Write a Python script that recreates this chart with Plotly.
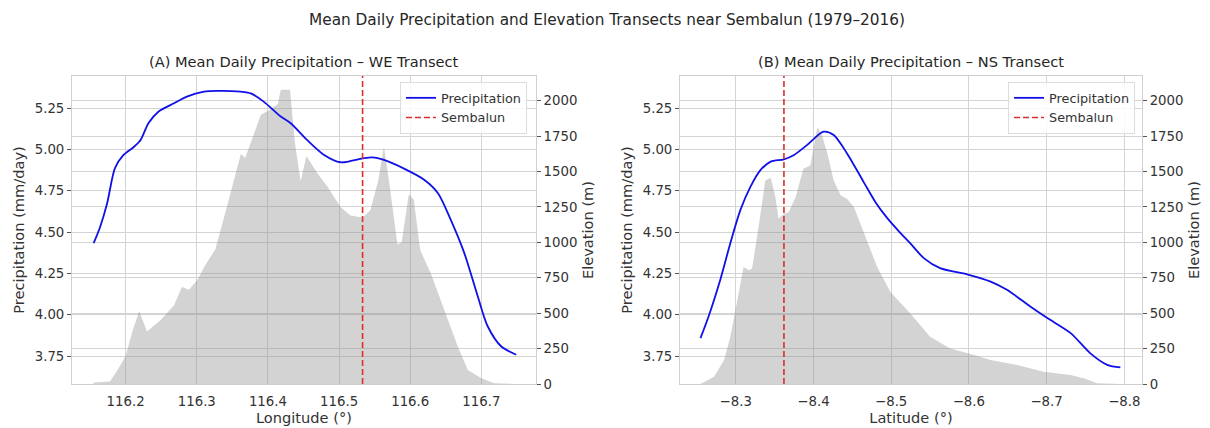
import plotly.graph_objects as go

# ---------------- data ----------------
# (A) West-East transect
lon_precip = [116.155, 116.164, 116.174, 116.185, 116.197, 116.211, 116.221, 116.232,
              116.246, 116.268, 116.286, 116.31, 116.329, 116.362, 116.376, 116.394,
              116.418, 116.432, 116.455, 116.479, 116.502, 116.533, 116.547, 116.563,
              116.592, 116.62, 116.639, 116.657, 116.676, 116.695, 116.709, 116.728, 116.749]
precip_we = [4.433, 4.53, 4.675, 4.887, 4.967, 5.014, 5.058, 5.159,
             5.229, 5.28, 5.32, 5.35, 5.355, 5.35, 5.34, 5.29,
             5.20, 5.159, 5.058, 4.967, 4.923, 4.947, 4.953, 4.937,
             4.883, 4.816, 4.736, 4.574, 4.373, 4.11, 3.929, 3.808, 3.758]

lon_elev = [116.155, 116.178, 116.19, 116.2, 116.21, 116.219, 116.23, 116.25, 116.268,
            116.279, 116.289, 116.301, 116.312, 116.326, 116.338, 116.352, 116.362, 116.368,
            116.38, 116.39, 116.401, 116.414, 116.418, 116.431, 116.438, 116.446, 116.454,
            116.47, 116.484, 116.502, 116.516, 116.533, 116.544, 116.555, 116.563, 116.57,
            116.582, 116.588, 116.598, 116.605, 116.614, 116.629, 116.648, 116.667, 116.681,
            116.7, 116.718, 116.735, 116.749]
elev_we = [10, 18, 110, 200, 380, 515, 370, 455, 556,
           685, 665, 735, 840, 950, 1170, 1437, 1625, 1595,
           1760, 1900, 1930, 1977, 2077, 2077, 1700, 1430, 1610,
           1484, 1390, 1249, 1190, 1175, 1226, 1437, 1672, 1440,
           985, 1000, 1340, 1300, 945, 780, 521, 263, 99,
           40, 5, 0, 0]

# (B) North-South transect
lat_precip = [-8.2546, -8.265, -8.28, -8.293, -8.306, -8.319, -8.332, -8.345, -8.362,
              -8.375, -8.392, -8.413, -8.426, -8.443, -8.465, -8.48, -8.495, -8.51,
              -8.525, -8.542, -8.563, -8.6, -8.628, -8.649, -8.679, -8.701, -8.731, -8.756,
              -8.778, -8.795]
precip_ns = [3.859, 3.99, 4.211, 4.433, 4.635, 4.776, 4.877, 4.927, 4.941,
             4.967, 5.028, 5.108, 5.088, 4.978, 4.80, 4.68, 4.585, 4.505,
             4.43, 4.343, 4.282, 4.242, 4.201, 4.151, 4.05, 3.98, 3.889, 3.768,
             3.697, 3.681]

lat_elev = [-8.2546, -8.272, -8.285, -8.293, -8.302, -8.31, -8.317, -8.321, -8.33,
            -8.338, -8.345, -8.351, -8.355, -8.362, -8.368, -8.377, -8.387, -8.396,
            -8.405, -8.411, -8.418, -8.426, -8.435, -8.443, -8.452, -8.465, -8.482,
            -8.499, -8.525, -8.55, -8.576, -8.6, -8.628, -8.662, -8.696, -8.731,
            -8.748, -8.765, -8.795]
elev_ns = [0, 51, 169, 333, 592, 826, 803, 815, 1132,
           1437, 1456, 1319, 1167, 1202, 1213, 1319, 1519, 1542,
           1812, 1754, 1625, 1437, 1331, 1308, 1249, 1061, 826,
           650, 495, 333, 251, 216, 169, 134, 87, 63,
           40, 5, 0]

sembalun_lon = 116.533
sembalun_lat = -8.362

lon_ticks = [116.2, 116.3, 116.4, 116.5, 116.6, 116.7]
lat_ticks = [-8.3, -8.4, -8.5, -8.6, -8.7, -8.8]
lat_tick_text = ["\u22128.3", "\u22128.4", "\u22128.5", "\u22128.6", "\u22128.7", "\u22128.8"]
precip_ticks = [3.75, 4.00, 4.25, 4.50, 4.75, 5.00, 5.25]
precip_tick_text = ["3.75", "4.00", "4.25", "4.50", "4.75", "5.00", "5.25"]
elev_ticks = [0, 250, 500, 750, 1000, 1250, 1500, 1750, 2000]

title = "Mean Daily Precipitation and Elevation Transects near Sembalun (1979\u20132016)"
title_a = "(A) Mean Daily Precipitation \u2013 WE Transect"
title_b = "(B) Mean Daily Precipitation \u2013 NS Transect"

# ---------------- styles ----------------
FONT = "DejaVu Sans"
GRID = "#d4d4d4"
SPINE = "#cfcfcf"
TXT = "#333333"
FILL = "rgba(140,140,140,0.38)"
BLUE = "#1010e8"
RED = "#e02c2c"

fig = go.Figure()

# left panel
fig.add_trace(go.Scatter(x=lon_elev, y=elev_we, xaxis="x", yaxis="y", mode="lines",
                         fill="tozeroy", fillcolor=FILL, line=dict(width=0, color=FILL),
                         showlegend=False, hoverinfo="skip"))
fig.add_trace(go.Scatter(x=lon_precip, y=precip_we, xaxis="x", yaxis="y2", mode="lines",
                         line=dict(color=BLUE, width=1.8, shape="spline", smoothing=0.8),
                         name="Precipitation", legend="legend", legendrank=1))
# right panel
fig.add_trace(go.Scatter(x=lat_elev, y=elev_ns, xaxis="x2", yaxis="y3", mode="lines",
                         fill="tozeroy", fillcolor=FILL, line=dict(width=0, color=FILL),
                         showlegend=False, hoverinfo="skip"))
fig.add_trace(go.Scatter(x=lat_precip, y=precip_ns, xaxis="x2", yaxis="y4", mode="lines",
                         line=dict(color=BLUE, width=1.8, shape="spline", smoothing=0.8),
                         name="Precipitation", legend="legend2", legendrank=1))

fig.add_shape(type="line", xref="x", yref="y domain", x0=sembalun_lon, x1=sembalun_lon,
              y0=0, y1=1, line=dict(color=RED, width=1.6, dash="6px,3px"),
              showlegend=True, name="Sembalun", legend="legend", legendrank=2)
fig.add_shape(type="line", xref="x2", yref="y3 domain", x0=sembalun_lat, x1=sembalun_lat,
              y0=0, y1=1, line=dict(color=RED, width=1.6, dash="6px,3px"),
              showlegend=True, name="Sembalun", legend="legend2", legendrank=2)

tickfont = dict(family=FONT, size=13.3, color=TXT)
titlefont = dict(family=FONT, size=14.6, color=TXT)

def xax(domain, rng, tv, tt, anchor, title_text):
    return dict(domain=domain, range=rng, tickvals=tv, ticktext=tt, anchor=anchor,
                showgrid=True, gridcolor=GRID, gridwidth=1, zeroline=False,
                showline=True, linecolor=SPINE, linewidth=1, mirror=True,
                ticks="", tickfont=tickfont, ticklabelstandoff=5, automargin=False,
                title=dict(text=title_text, font=titlefont, standoff=1))

def yax(rng, tv, tt, side, anchor, title_text, overlaying=None):
    d = dict(range=rng, tickvals=tv, ticktext=tt, side=side, anchor=anchor,
             showgrid=True, gridcolor=GRID, gridwidth=1, zeroline=False,
             showline=True, linecolor=SPINE, linewidth=1, automargin=False,
             ticks="outside", ticklen=4, tickwidth=1, tickcolor="#555555",
             tickfont=tickfont,
             title=dict(text=title_text, font=titlefont, standoff=6))
    if overlaying:
        d["overlaying"] = overlaying
    return d

DOM_L = [0.0, 0.4336]
DOM_R = [0.5682, 1.0]
P_RANGE = [3.581, 5.445]
E_RANGE = [0, 2174]

fig.update_layout(
    width=1210, height=428,
    margin=dict(l=72, r=68, t=76, b=44, autoexpand=False),
    paper_bgcolor="white", plot_bgcolor="white",
    font=dict(family=FONT, size=13, color=TXT),
    title=dict(text=title, x=0.5, xref="paper", xanchor="center",
               y=1 - 20 / 428, yref="container", yanchor="middle",
               font=dict(family=FONT, size=15.3, color="#262626")),
    xaxis=xax(DOM_L, [116.1246, 116.7767], lon_ticks, [f"{v:.1f}" for v in lon_ticks],
              "y", "Longitude (°)"),
    yaxis=yax(E_RANGE, elev_ticks, [str(v) for v in elev_ticks], "right", "x", "Elevation (m)"),
    yaxis2=yax(P_RANGE, precip_ticks, precip_tick_text, "left", "x",
               "Precipitation (mm/day)", overlaying="y"),
    xaxis2=xax(DOM_R, [-8.2282, -8.8228], lat_ticks, lat_tick_text, "y3", "Latitude (°)"),
    yaxis3=yax(E_RANGE, elev_ticks, [str(v) for v in elev_ticks], "right", "x2", "Elevation (m)"),
    yaxis4=yax(P_RANGE, precip_ticks, precip_tick_text, "left", "x2",
               "Precipitation (mm/day)", overlaying="y3"),
    legend=dict(x=0.4252, y=0.9805, xanchor="right", yanchor="top",
                bgcolor="rgba(255,255,255,0.85)", bordercolor="#dddddd", borderwidth=1,
                font=dict(family=FONT, size=12.8, color=TXT), tracegroupgap=0),
    legend2=dict(x=0.9935, y=0.9805, xanchor="right", yanchor="top",
                 bgcolor="rgba(255,255,255,0.85)", bordercolor="#dddddd", borderwidth=1,
                 font=dict(family=FONT, size=12.8, color=TXT), tracegroupgap=0),
    annotations=[
        dict(text=title_a, x=sum(DOM_L) / 2, y=1, xref="paper", yref="paper",
             xanchor="center", yanchor="middle", yshift=15, showarrow=False,
             font=dict(family=FONT, size=14.6, color="#262626")),
        dict(text=title_b, x=sum(DOM_R) / 2, y=1, xref="paper", yref="paper",
             xanchor="center", yanchor="middle", yshift=15, showarrow=False,
             font=dict(family=FONT, size=14.6, color="#262626")),
    ],
)

fig.write_html("out.html")
